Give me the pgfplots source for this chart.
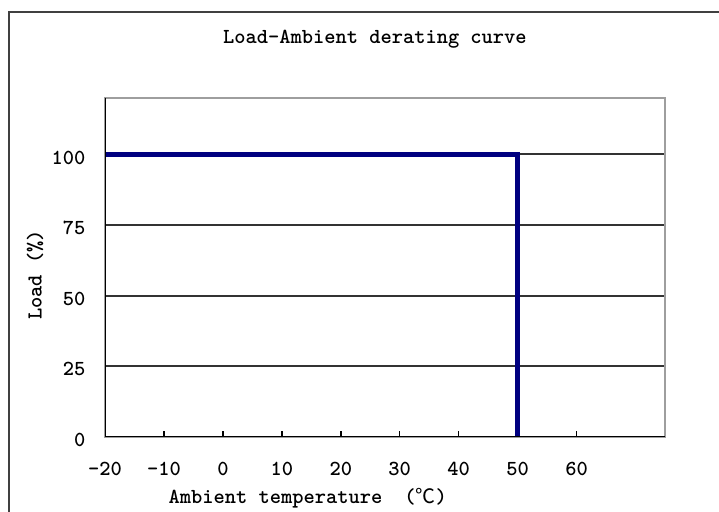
\documentclass[border=0pt]{standalone}
\usepackage{fontspec}
\usepackage{pgfplots}
\pgfplotsset{compat=1.18}
\newfontfamily\cjk{Noto Sans CJK SC}
\definecolor{navyline}{RGB}{0,0,128}
\newcommand\chfont{\ttfamily\bfseries\fontsize{21.5}{22}\selectfont}
\begin{document}
\begin{tikzpicture}
\useasboundingbox (0bp,0bp) rectangle (719bp,512bp);
\draw[line width=2.2bp, color=black!75] (9bp,-5bp) -- (9bp,500bp) -- (725bp,500bp);
\begin{axis}[
  at={(105bp,75bp)}, anchor=south west,
  scale only axis, width=560bp, height=339bp,
  xmin=-20, xmax=75, ymin=0, ymax=120,
  xtick={-20,-10,0,10,20,30,40,50,60},
  xticklabels={-20,-10,0,10,20,30,40,50,60},
  ytick={0,25,50,75,100},
  yticklabels={0,25,50,75,100},
  tick label style={font=\chfont},
  xticklabel style={yshift=-22bp},
  yticklabel style={xshift=-16bp, yshift=-3bp},
  tick align=inside,
  major tick length=6bp,
  xtick pos=bottom,
  xtick style={draw=black, line width=1.5bp},
  ytick style={draw=none},
  ymajorgrids,
  grid style={line width=2bp, color=black!80},
  axis line style={draw=black!38, line width=2bp},
  title={Load-Ambient derating curve},
  title style={font=\chfont, at={(axis description cs:0.482,1.156)}, anchor=center},
  xlabel={Ambient temperature\hspace{22bp}({\cjk\mdseries\fontsize{20}{20}\selectfont ℃})},
  xlabel style={font=\chfont, at={(axis description cs:0.362,-0.18)}, anchor=center},
  ylabel={Load (\%)},
  ylabel style={font=\chfont, at={(axis description cs:-0.125,0.478)}, anchor=center},
]
\addplot[navyline, line width=5bp, line join=miter] coordinates {(-20,100) (50,100) (50,0)};
\draw[black, line width=2bp] (rel axis cs:0,1) -- (rel axis cs:0,0) -- (rel axis cs:1,0);
\end{axis}
\end{tikzpicture}
\end{document}
